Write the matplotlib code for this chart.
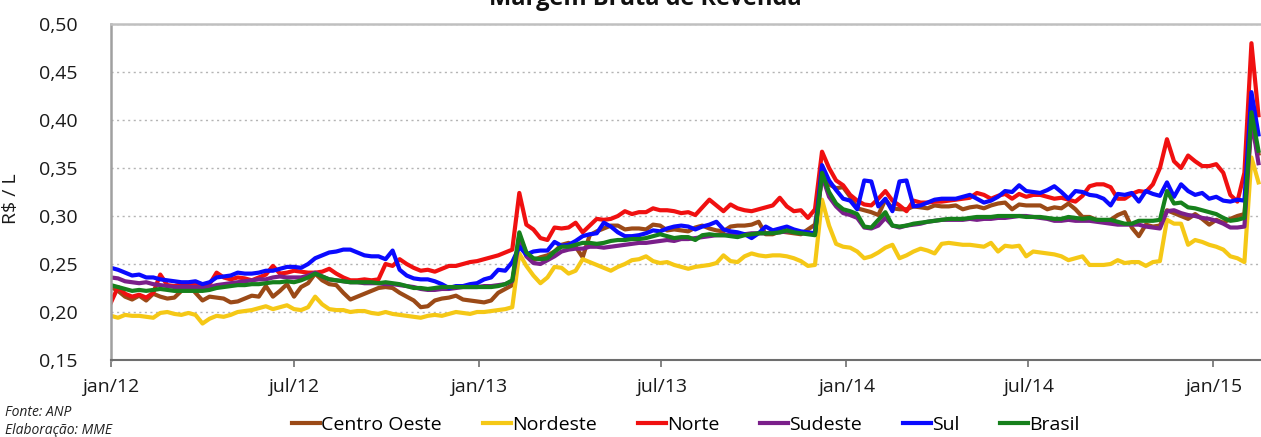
import matplotlib
matplotlib.use('Agg')
import matplotlib.pyplot as plt
import numpy as np
import pandas as pd

plt.rcParams['font.family'] = ['Open Sans', 'DejaVu Sans']

# weekly series, jan/2012 .. feb/2015
weeks = pd.date_range('2012-01-01', periods=164, freq='7D')

centro_oeste = [
    0.226, 0.222, 0.216, 0.213, 0.217, 0.212, 0.219, 0.216, 0.214, 0.215,
    0.222, 0.228, 0.220, 0.212, 0.216, 0.215, 0.214, 0.210, 0.211, 0.214,
    0.217, 0.216, 0.227, 0.216, 0.222, 0.229, 0.216, 0.226, 0.230, 0.240,
    0.233, 0.229, 0.228, 0.220, 0.213, 0.216, 0.219, 0.222, 0.225, 0.226,
    0.225, 0.220, 0.216, 0.212, 0.205, 0.206, 0.212, 0.214, 0.215, 0.217,
    0.213, 0.212, 0.211, 0.210, 0.212, 0.220, 0.224, 0.228, 0.280, 0.261,
    0.254, 0.257, 0.259, 0.263, 0.270, 0.272, 0.268, 0.257, 0.280, 0.284,
    0.287, 0.290, 0.290, 0.286, 0.287, 0.287, 0.286, 0.291, 0.290, 0.285,
    0.286, 0.285, 0.284, 0.288, 0.290, 0.287, 0.285, 0.284, 0.289, 0.290,
    0.290, 0.291, 0.294, 0.281, 0.281, 0.284, 0.283, 0.282, 0.281, 0.286,
    0.291, 0.340, 0.333, 0.329, 0.330, 0.320, 0.308, 0.306, 0.304, 0.301,
    0.317, 0.308, 0.307, 0.307, 0.310, 0.309, 0.308, 0.311, 0.310, 0.310,
    0.311, 0.307, 0.309, 0.310, 0.308, 0.311, 0.313, 0.314, 0.307, 0.312,
    0.311, 0.311, 0.311, 0.307, 0.309, 0.308, 0.313, 0.307, 0.299, 0.299,
    0.296, 0.295, 0.296, 0.301, 0.304, 0.288, 0.279, 0.291, 0.289, 0.290,
    0.306, 0.303, 0.300, 0.297, 0.302, 0.297, 0.291, 0.296, 0.293, 0.297,
    0.300, 0.302, 0.395, 0.365,
]

nordeste = [
    0.196, 0.194, 0.197, 0.196, 0.196, 0.195, 0.194, 0.199, 0.200, 0.198,
    0.197, 0.199, 0.197, 0.188, 0.193, 0.196, 0.195, 0.197, 0.200, 0.201,
    0.202, 0.204, 0.206, 0.203, 0.205, 0.207, 0.203, 0.202, 0.205, 0.216,
    0.208, 0.203, 0.202, 0.202, 0.200, 0.201, 0.201, 0.199, 0.198, 0.200,
    0.198, 0.197, 0.196, 0.195, 0.194, 0.196, 0.197, 0.196, 0.198, 0.200,
    0.199, 0.198, 0.200, 0.200, 0.201, 0.202, 0.203, 0.205, 0.261, 0.248,
    0.238, 0.230, 0.236, 0.247, 0.246, 0.240, 0.243, 0.255, 0.252, 0.249,
    0.246, 0.243, 0.247, 0.250, 0.254, 0.255, 0.258, 0.253, 0.251, 0.252,
    0.249, 0.247, 0.245, 0.247, 0.248, 0.249, 0.251, 0.259, 0.253, 0.252,
    0.258, 0.261, 0.259, 0.258, 0.259, 0.259, 0.258, 0.256, 0.253, 0.248,
    0.249, 0.317, 0.290, 0.271, 0.268, 0.267, 0.263, 0.256, 0.258, 0.262,
    0.267, 0.270, 0.256, 0.259, 0.263, 0.266, 0.264, 0.261, 0.271, 0.272,
    0.271, 0.270, 0.270, 0.269, 0.268, 0.272, 0.263, 0.269, 0.268, 0.269,
    0.258, 0.263, 0.262, 0.261, 0.260, 0.258, 0.254, 0.256, 0.258, 0.249,
    0.249, 0.249, 0.250, 0.254, 0.251, 0.252, 0.252, 0.248, 0.252, 0.253,
    0.296, 0.292, 0.292, 0.270, 0.275, 0.273, 0.270, 0.268, 0.265, 0.258,
    0.256, 0.252, 0.361, 0.335,
]

norte = [
    0.210, 0.226, 0.219, 0.216, 0.218, 0.215, 0.220, 0.239, 0.228, 0.227,
    0.229, 0.227, 0.230, 0.226, 0.229, 0.241, 0.236, 0.234, 0.236, 0.235,
    0.233, 0.236, 0.239, 0.248, 0.240, 0.241, 0.243, 0.242, 0.241, 0.241,
    0.242, 0.245, 0.240, 0.236, 0.233, 0.233, 0.234, 0.233, 0.234, 0.250,
    0.248, 0.255, 0.250, 0.246, 0.243, 0.244, 0.242, 0.245, 0.248, 0.248,
    0.250, 0.252, 0.253, 0.255, 0.257, 0.259, 0.262, 0.265, 0.324, 0.291,
    0.286, 0.277, 0.275, 0.288, 0.287, 0.288, 0.293, 0.283, 0.290, 0.297,
    0.296, 0.297, 0.300, 0.305, 0.302, 0.304, 0.304, 0.308, 0.306, 0.306,
    0.305, 0.303, 0.304, 0.301, 0.309, 0.317, 0.311, 0.305, 0.312, 0.308,
    0.306, 0.305, 0.307, 0.309, 0.311, 0.319, 0.310, 0.305, 0.306, 0.298,
    0.307, 0.367, 0.350, 0.337, 0.332, 0.322, 0.316, 0.312, 0.311, 0.318,
    0.326, 0.316, 0.311, 0.305, 0.316, 0.314, 0.314, 0.315, 0.315, 0.316,
    0.317, 0.318, 0.319, 0.324, 0.322, 0.318, 0.321, 0.323, 0.318, 0.323,
    0.320, 0.322, 0.322, 0.320, 0.318, 0.319, 0.317, 0.315, 0.321, 0.331,
    0.333, 0.333, 0.330, 0.318, 0.318, 0.323, 0.326, 0.325, 0.333, 0.350,
    0.380, 0.357, 0.350, 0.363, 0.357, 0.352, 0.352, 0.354, 0.345, 0.322,
    0.315, 0.345, 0.480, 0.405,
]

sudeste = [
    0.236, 0.235, 0.232, 0.231, 0.230, 0.231, 0.229, 0.228, 0.227, 0.226,
    0.226, 0.226, 0.226, 0.225, 0.226, 0.228, 0.229, 0.230, 0.231, 0.232,
    0.233, 0.234, 0.234, 0.236, 0.237, 0.236, 0.236, 0.236, 0.238, 0.241,
    0.237, 0.234, 0.233, 0.232, 0.231, 0.231, 0.230, 0.230, 0.230, 0.229,
    0.229, 0.228, 0.227, 0.226, 0.224, 0.223, 0.223, 0.224, 0.224, 0.225,
    0.226, 0.226, 0.226, 0.227, 0.227, 0.228, 0.229, 0.232, 0.275, 0.258,
    0.251, 0.250, 0.254, 0.258, 0.263, 0.265, 0.266, 0.266, 0.268, 0.268,
    0.267, 0.268, 0.269, 0.270, 0.271, 0.272, 0.272, 0.273, 0.274, 0.275,
    0.274, 0.276, 0.276, 0.277, 0.278, 0.279, 0.280, 0.280, 0.281, 0.281,
    0.281, 0.282, 0.282, 0.282, 0.283, 0.283, 0.284, 0.284, 0.282, 0.282,
    0.282, 0.342, 0.320, 0.310, 0.303, 0.301, 0.298, 0.288, 0.287, 0.290,
    0.298, 0.290, 0.288, 0.290, 0.291, 0.292, 0.294, 0.295, 0.296, 0.296,
    0.296, 0.296, 0.297, 0.296, 0.297, 0.297, 0.298, 0.298, 0.299, 0.300,
    0.300, 0.299, 0.298, 0.297, 0.295, 0.295, 0.296, 0.295, 0.295, 0.295,
    0.294, 0.293, 0.292, 0.291, 0.291, 0.291, 0.291, 0.289, 0.288, 0.287,
    0.305, 0.306, 0.303, 0.301, 0.300, 0.298, 0.297, 0.295, 0.292, 0.288,
    0.288, 0.289, 0.401, 0.355,
]

sul = [
    0.246, 0.244, 0.241, 0.238, 0.239, 0.236, 0.236, 0.234, 0.233, 0.232,
    0.231, 0.231, 0.232, 0.229, 0.231, 0.236, 0.237, 0.238, 0.241, 0.240,
    0.240, 0.241, 0.243, 0.243, 0.245, 0.247, 0.247, 0.246, 0.250, 0.256,
    0.259, 0.262, 0.263, 0.265, 0.265, 0.262, 0.259, 0.258, 0.258, 0.255,
    0.264, 0.244, 0.238, 0.235, 0.234, 0.234, 0.232, 0.229, 0.225, 0.227,
    0.227, 0.229, 0.230, 0.234, 0.236, 0.244, 0.243, 0.252, 0.268, 0.260,
    0.263, 0.264, 0.264, 0.273, 0.269, 0.270, 0.274, 0.279, 0.281, 0.282,
    0.293, 0.289, 0.283, 0.279, 0.279, 0.280, 0.282, 0.285, 0.284, 0.287,
    0.289, 0.290, 0.289, 0.286, 0.289, 0.291, 0.294, 0.286, 0.284, 0.283,
    0.281, 0.277, 0.282, 0.289, 0.285, 0.287, 0.289, 0.286, 0.284, 0.283,
    0.282, 0.353, 0.337, 0.327, 0.318, 0.316, 0.307, 0.337, 0.336, 0.310,
    0.318, 0.305, 0.336, 0.337, 0.310, 0.311, 0.314, 0.317, 0.318, 0.318,
    0.318, 0.320, 0.322, 0.318, 0.314, 0.316, 0.320, 0.326, 0.325, 0.332,
    0.326, 0.325, 0.324, 0.327, 0.331, 0.325, 0.318, 0.326, 0.325, 0.322,
    0.321, 0.318, 0.311, 0.323, 0.322, 0.324, 0.315, 0.326, 0.323, 0.321,
    0.335, 0.320, 0.333, 0.326, 0.322, 0.324, 0.318, 0.320, 0.316, 0.315,
    0.317, 0.316, 0.429, 0.385,
]

brasil = [
    0.228, 0.226, 0.224, 0.222, 0.223, 0.222, 0.223, 0.224, 0.223, 0.222,
    0.222, 0.222, 0.222, 0.222, 0.223, 0.225, 0.226, 0.227, 0.228, 0.228,
    0.229, 0.229, 0.230, 0.231, 0.231, 0.232, 0.231, 0.233, 0.236, 0.240,
    0.237, 0.234, 0.233, 0.232, 0.231, 0.231, 0.231, 0.231, 0.230, 0.231,
    0.230, 0.229, 0.227, 0.225, 0.225, 0.224, 0.225, 0.226, 0.226, 0.226,
    0.226, 0.226, 0.226, 0.226, 0.226, 0.227, 0.229, 0.233, 0.283, 0.262,
    0.256, 0.255, 0.256, 0.263, 0.268, 0.268, 0.270, 0.272, 0.272, 0.271,
    0.272, 0.274, 0.275, 0.275, 0.276, 0.276, 0.277, 0.279, 0.281, 0.279,
    0.277, 0.278, 0.278, 0.275, 0.280, 0.281, 0.280, 0.280, 0.279, 0.278,
    0.280, 0.281, 0.282, 0.282, 0.282, 0.283, 0.285, 0.283, 0.282, 0.281,
    0.280, 0.345, 0.325, 0.313, 0.307, 0.305, 0.302, 0.289, 0.288, 0.296,
    0.304, 0.290, 0.289, 0.290, 0.292, 0.293, 0.294, 0.295, 0.296, 0.297,
    0.297, 0.297, 0.298, 0.299, 0.299, 0.299, 0.300, 0.300, 0.300, 0.300,
    0.299, 0.299, 0.299, 0.298, 0.297, 0.297, 0.299, 0.298, 0.297, 0.298,
    0.296, 0.296, 0.296, 0.294, 0.292, 0.292, 0.295, 0.295, 0.295, 0.296,
    0.326, 0.313, 0.314, 0.309, 0.308, 0.306, 0.304, 0.302, 0.298, 0.295,
    0.296, 0.298, 0.408, 0.368,
]

series = [
    ('Centro Oeste', centro_oeste, '#9b4a17'),
    ('Nordeste', nordeste, '#f5c816'),
    ('Norte', norte, '#f01010'),
    ('Sudeste', sudeste, '#7a1f8a'),
    ('Sul', sul, '#0a0aff'),
    ('Brasil', brasil, '#16801c'),
]

tick_dates = pd.to_datetime(['2012-01-01', '2012-07-01', '2013-01-01', '2013-07-01',
                             '2014-01-01', '2014-07-01', '2015-01-01'])
tick_labels = ['jan/12', 'jul/12', 'jan/13', 'jul/13', 'jan/14', 'jul/14', 'jan/15']
y_ticks = [0.15, 0.20, 0.25, 0.30, 0.35, 0.40, 0.45, 0.50]

fig = plt.figure(figsize=(12.61, 4.37), dpi=100)
ax = fig.add_axes([111 / 1261, 1 - 360 / 437, 1 - 111 / 1261, 336 / 437])

for name, vals, col in series:
    ax.plot(weeks, vals, color=col, lw=3.0, label=name)

ax.set_ylim(0.15, 0.50)
ax.set_xlim(pd.Timestamp('2012-01-01'), pd.Timestamp('2012-01-01') + pd.Timedelta(days=1143.5))
ax.set_yticks(y_ticks)
ax.set_yticklabels([('%.2f' % v).replace('.', ',') for v in y_ticks])
ax.set_xticks(tick_dates)
ax.set_xticklabels(tick_labels)
ax.tick_params(axis='y', length=0, pad=24, labelsize=14, labelcolor='#1a1a1a')
ax.tick_params(axis='x', length=5, width=1.2, color='#707070', pad=8,
               labelsize=14, labelcolor='#1a1a1a')

ax.grid(axis='y', color='#b4b4b4', lw=1.0, linestyle=(0, (1.5, 2.5)))
ax.set_axisbelow(True)

ax.spines['right'].set_visible(False)
ax.spines['top'].set_color('#c0c0c0')
ax.spines['top'].set_linewidth(1.8)
ax.spines['left'].set_color('#a0a0a0')
ax.spines['left'].set_linewidth(1.8)
ax.spines['bottom'].set_color('#6e6e6e')
ax.spines['bottom'].set_linewidth(1.5)

ax.set_ylabel('R$ / L', fontsize=14, color='#1a1a1a')
ax.yaxis.set_label_coords(-0.079, 0.48)

fig.text(645 / 1261, 1 - 5 / 437, 'Margem Bruta de Revenda', ha='center', va='baseline',
         fontsize=17, fontweight='bold', color='#111111')

fig.text(5 / 1261, 1 - 413 / 437, 'Fonte: ANP', ha='left', va='center',
         fontsize=10, style='italic', color='#222222')
fig.text(5 / 1261, 1 - 431 / 437, 'Elaboração: MME', ha='left', va='center',
         fontsize=10, style='italic', color='#222222')

ax.legend(loc='center', bbox_to_anchor=(686 / 1261, 1 - 425 / 437),
          bbox_transform=fig.transFigure, ncol=6, frameon=False, fontsize=14,
          handlelength=1.45, handletextpad=0.05, columnspacing=2.1,
          borderaxespad=0, borderpad=0)

fig.savefig('out.png', dpi=100)
